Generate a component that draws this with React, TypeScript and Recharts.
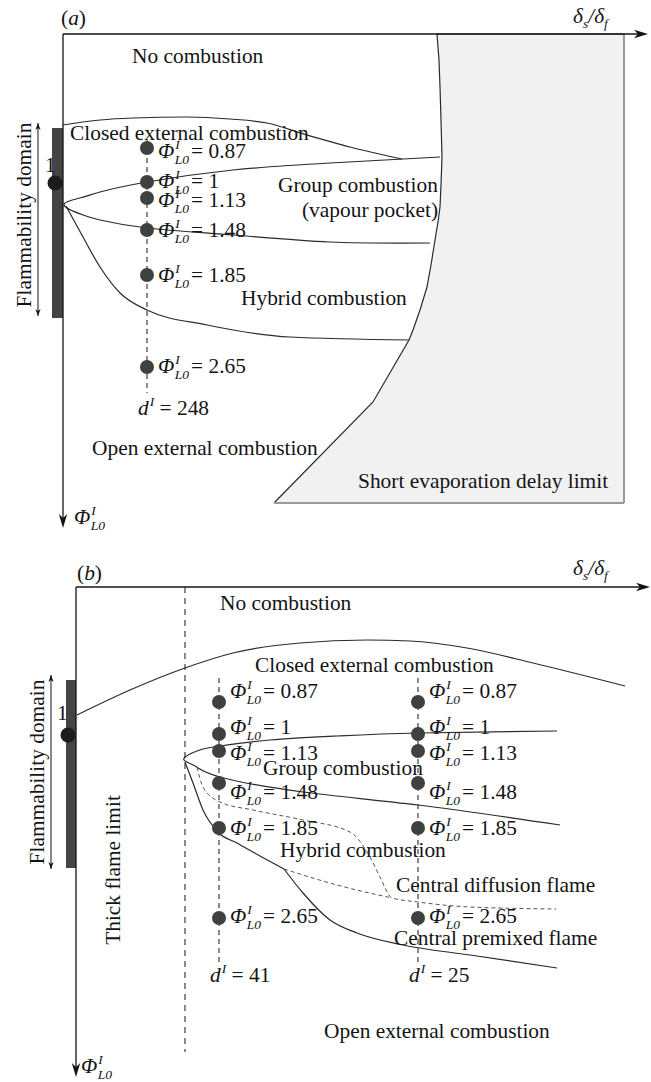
import {
  ComposedChart,
  XAxis,
  YAxis,
  Line,
  Area,
  Scatter,
  ReferenceLine,
  ReferenceArea,
} from 'recharts';

const WIDTH = 651;
const FONT = '"Liberation Serif", "Times New Roman", Times, serif';
const INK = '#141414';
const CURVE = '#2a2a2a';
const TEXT_SIZE = 21.4;

type Pt = { u: number; v: number };
type Curve = { data: Pt[]; type: 'monotone' | 'natural' | 'linear'; dashed?: boolean };
type Note = { u: number; v: number; text: string };
type Column = { u: number; top: number; bottom: number; d: string };

const pts = (list: number[][]): Pt[] => list.map(([u, v]) => ({ u, v }));

// equivalence ratios marked along each column
const phiValues = ['0.87', '1', '1.13', '1.48', '1.85', '2.65'];

// ---------- panel (a): schematic units counted from the panel's top-left corner
const aOrigin = { u: 63, v: 34 };
const aAxisTips = { u: 648, v: 528 };
const aBoxCorner = { u: 624, v: 503 };
const aColumns: Column[] = [{ u: 147, top: 140, bottom: 393, d: '248' }];
const aDotLevels = [148, 182, 198, 230, 275, 367];
const aLabelLevels = [158, 188, 207, 237, 282, 373];
const aClosedTop = pts([[63, 125], [100, 120], [133, 118], [187, 117], [230, 119], [267, 123], [307, 135], [350, 147], [402, 159]]);
const aGroup = pts([[440, 157], [330, 163], [233, 170], [147, 182], [100, 192], [80, 198], [64, 205], [83, 215], [100, 220], [147, 228], [233, 235], [330, 242], [430, 243]]);
const aHybridBottom = pts([[66, 206], [83, 237], [100, 267], [120, 293], [147, 310], [207, 325], [290, 337], [409, 340]]);
const aDelayLimit = pts([
  [274, 503], [373, 402], [409, 340], [413, 330], [420, 310], [427, 287], [431, 265], [435, 240],
  [438, 222], [440, 207], [441, 185], [442, 157], [441, 120], [440, 87], [439, 60], [437, 34], [624, 34],
]);
const aRegions: Note[] = [
  { u: 132, v: 63, text: 'No combustion' },
  { u: 70, v: 140, text: 'Closed external combustion' },
  { u: 278, v: 192, text: 'Group combustion' },
  { u: 302, v: 217, text: '(vapour pocket)' },
  { u: 241, v: 305, text: 'Hybrid combustion' },
  { u: 92, v: 455, text: 'Open external combustion' },
  { u: 358, v: 488, text: 'Short evaporation delay limit' },
];

// ---------- panel (b)
const bOrigin = { u: 76, v: 47 };
const bAxisTips = { u: 650, v: 537 };
const bThickLimit = { u: 185, top: 47, bottom: 512 };
const bColumns: Column[] = [
  { u: 219, top: 138, bottom: 422, d: '41' },
  { u: 418, top: 138, bottom: 422, d: '25' },
];
const bDotLevels = [162, 194, 211, 243, 288, 378];
const bLabelLevels = [158, 194, 220, 259, 295, 383];
const bClosedTop = pts([[77, 175], [130, 150], [185, 128], [233, 113], [300, 103], [367, 100], [410, 101], [467, 108], [533, 123], [625, 146]]);
const bGroup = pts([[557, 191], [418, 193], [337, 196], [270, 200], [220, 206], [203, 209], [190, 214], [184, 220], [195, 226], [220, 237], [303, 252], [418, 265], [560, 285]]);
const bHybridUpper = pts([[185, 222], [193, 243], [203, 270], [219, 293], [237, 303], [260, 316], [284, 329]]);
const bHybridLower = pts([[284, 329], [303, 353], [330, 380], [357, 393], [403, 405], [470, 415], [557, 428]]);
const bDiffusion = pts([[197, 227], [203, 247], [220, 262], [253, 270], [303, 280], [350, 292], [370, 317], [380, 337], [392, 358], [418, 362], [470, 367], [556, 369]]);
const bPremixed = pts([[284, 329], [337, 345], [392, 358]]);
const bRegions: Note[] = [
  { u: 220, v: 70, text: 'No combustion' },
  { u: 255, v: 132, text: 'Closed external combustion' },
  { u: 263, v: 235, text: 'Group combustion' },
  { u: 280, v: 317, text: 'Hybrid combustion' },
  { u: 396, v: 352, text: 'Central diffusion flame' },
  { u: 394, v: 405, text: 'Central premixed flame' },
  { u: 324, v: 498, text: 'Open external combustion' },
];

type PanelCfg = {
  height: number;
  tag: string;
  tagAt: Pt;
  origin: Pt;
  tips: Pt;
  ratioAt: Pt;
  phiAxisAt: Pt;
  bar: { u1: number; u2: number; v1: number; v2: number };
  flamArrow: { u: number; v1: number; v2: number };
  oneLabel: Pt;
  stoich: Pt;
  columns: Column[];
  dotLevels: number[];
  labelLevels: number[];
  dLevel: number;
  curves: Curve[];
  regions: Note[];
  rotated: Note[];
  delayLimit?: Pt[];
  boxCorner?: Pt;
  thickLimit?: { u: number; top: number; bottom: number };
};

const headPoints = (x: number, y: number, ang: number, len: number, half: number) => {
  const c = Math.cos(ang);
  const s = Math.sin(ang);
  const bx = x - len * c;
  const by = y - len * s;
  const nx = x - len * 0.72 * c;
  const ny = y - len * 0.72 * s;
  return `${x},${y} ${bx - half * s},${by + half * c} ${nx},${ny} ${bx + half * s},${by - half * c}`;
};

const AxisArrow = (p: any) => {
  const { x1, y1, x2, y2 } = p;
  const ang = Math.atan2(y2 - y1, x2 - x1);
  return (
    <g>
      <line x1={x1} y1={y1} x2={x2 - 8 * Math.cos(ang)} y2={y2 - 8 * Math.sin(ang)} stroke={INK} strokeWidth={1.3} />
      <polygon points={headPoints(x2, y2, ang, 14, 4.2)} fill={INK} />
    </g>
  );
};

const DoubleArrow = (p: any) => {
  const { x1, y1, x2, y2 } = p;
  const ang = Math.atan2(y2 - y1, x2 - x1);
  return (
    <g>
      <line x1={x1} y1={y1} x2={x2} y2={y2} stroke={INK} strokeWidth={1} />
      <polygon points={headPoints(x2, y2, ang, 7, 2.6)} fill={INK} />
      <polygon points={headPoints(x1, y1, ang + Math.PI, 7, 2.6)} fill={INK} />
    </g>
  );
};

function PhiText({ x, y, value }: { x: number; y: number; value?: string }) {
  return (
    <text x={x} y={y} fontFamily={FONT} fontSize={TEXT_SIZE} fill={INK}>
      <tspan fontStyle="italic">Φ</tspan>
      <tspan fontStyle="italic" fontSize={13.5} dx={1} dy={-9}>I</tspan>
      <tspan fontStyle="italic" fontSize={13.5} dx={-5} dy={15}>L0</tspan>
      {value !== undefined && (
        <tspan dx={2} dy={-6}>{'= ' + value}</tspan>
      )}
    </text>
  );
}

const textShape = (p: any) => (
  <text x={p.cx} y={p.cy} fontFamily={FONT} fontSize={TEXT_SIZE} fill={INK}>
    {p.payload.text}
  </text>
);

const rotatedShape = (p: any) => (
  <text
    x={p.cx}
    y={p.cy}
    fontFamily={FONT}
    fontSize={TEXT_SIZE}
    fill={INK}
    textAnchor="middle"
    transform={`rotate(-90 ${p.cx} ${p.cy})`}
  >
    {p.payload.text}
  </text>
);

const dotShape = (r: number, fill: string) => (p: any) => <circle cx={p.cx} cy={p.cy} r={r} fill={fill} />;

const phiShape = (p: any) => <PhiText x={p.cx} y={p.cy} value={p.payload.phi} />;
const phiAxisShape = (p: any) => <PhiText x={p.cx} y={p.cy} />;

const dShape = (p: any) => (
  <text x={p.cx} y={p.cy} fontFamily={FONT} fontSize={TEXT_SIZE} fill={INK}>
    <tspan fontStyle="italic">d</tspan>
    <tspan fontStyle="italic" fontSize={13.5} dx={1} dy={-9}>I</tspan>
    <tspan dy={9}>{' = ' + p.payload.d}</tspan>
  </text>
);

const ratioShape = (p: any) => (
  <text x={p.cx} y={p.cy} fontFamily={FONT} fontSize={TEXT_SIZE} fill={INK} fontStyle="italic">
    <tspan>δ</tspan>
    <tspan fontSize={13.5} dy={5}>s</tspan>
    <tspan dy={-5}>/δ</tspan>
    <tspan fontSize={13.5} dy={5}>f</tspan>
  </text>
);

const tagShape = (p: any) => (
  <text x={p.cx} y={p.cy} fontFamily={FONT} fontSize={TEXT_SIZE} fill={INK}>
    (<tspan fontStyle="italic">{p.payload.text}</tspan>)
  </text>
);

const oneShape = (p: any) => (
  <text x={p.cx} y={p.cy} fontFamily={FONT} fontSize={TEXT_SIZE} fill={INK}>1</text>
);

function Panel({ cfg }: { cfg: PanelCfg }) {
  const dots = cfg.columns.flatMap((c) => cfg.dotLevels.map((v, i) => ({ u: c.u, v, phi: phiValues[i] })));
  const labels = cfg.columns.flatMap((c) => cfg.labelLevels.map((v, i) => ({ u: c.u + 11, v, phi: phiValues[i] })));
  const dLabels = cfg.columns.map((c) => ({ u: c.u - 9, v: cfg.dLevel, d: c.d }));
  return (
    <ComposedChart width={WIDTH} height={cfg.height} margin={{ top: 0, right: 0, bottom: 0, left: 0 }}>
      <XAxis type="number" dataKey="u" domain={[0, WIDTH]} hide allowDataOverflow />
      <YAxis type="number" dataKey="v" domain={[0, cfg.height]} reversed hide allowDataOverflow />

      {cfg.delayLimit && cfg.boxCorner && (
        <Area
          data={cfg.delayLimit}
          dataKey="v"
          type="linear"
          baseValue={cfg.boxCorner.v}
          fill="#f1f1f1"
          fillOpacity={1}
          stroke={CURVE}
          strokeWidth={1.2}
          dot={false}
          activeDot={false}
          isAnimationActive={false}
        />
      )}
      {cfg.delayLimit && cfg.boxCorner && (
        <ReferenceLine
          segment={[{ x: cfg.boxCorner.u, y: cfg.origin.v }, { x: cfg.boxCorner.u, y: cfg.boxCorner.v }]}
          stroke="#9a9a9a"
          strokeWidth={2}
        />
      )}
      {cfg.delayLimit && cfg.boxCorner && (
        <ReferenceLine
          segment={[{ x: cfg.delayLimit[0].u, y: cfg.boxCorner.v }, { x: cfg.boxCorner.u, y: cfg.boxCorner.v }]}
          stroke="#9a9a9a"
          strokeWidth={2}
        />
      )}

      <ReferenceArea
        x1={cfg.bar.u1}
        x2={cfg.bar.u2}
        y1={cfg.bar.v1}
        y2={cfg.bar.v2}
        fill="#444"
        fillOpacity={1}
        stroke="none"
      />
      <ReferenceLine
        segment={[{ x: cfg.flamArrow.u, y: cfg.flamArrow.v1 }, { x: cfg.flamArrow.u, y: cfg.flamArrow.v2 }]}
        shape={DoubleArrow}
      />

      <ReferenceLine
        segment={[{ x: cfg.origin.u, y: cfg.origin.v }, { x: cfg.tips.u, y: cfg.origin.v }]}
        shape={AxisArrow}
      />
      <ReferenceLine
        segment={[{ x: cfg.origin.u, y: cfg.origin.v }, { x: cfg.origin.u, y: cfg.tips.v }]}
        shape={AxisArrow}
      />

      {cfg.thickLimit && (
        <ReferenceLine
          segment={[{ x: cfg.thickLimit.u, y: cfg.thickLimit.top }, { x: cfg.thickLimit.u, y: cfg.thickLimit.bottom }]}
          stroke={INK}
          strokeWidth={1}
          strokeDasharray="6 5"
        />
      )}

      {cfg.columns.map((c, i) => (
        <ReferenceLine
          key={`col${i}`}
          segment={[{ x: c.u, y: c.top }, { x: c.u, y: c.bottom }]}
          stroke={INK}
          strokeWidth={1}
          strokeDasharray="5 4"
        />
      ))}

      {cfg.curves.map((c, i) => (
        <Line
          key={`curve${i}`}
          data={c.data}
          dataKey="v"
          type={c.type}
          stroke={c.dashed ? '#555' : CURVE}
          strokeWidth={c.dashed ? 1 : 1.2}
          strokeDasharray={c.dashed ? '4 3' : undefined}
          dot={false}
          activeDot={false}
          legendType="none"
          isAnimationActive={false}
        />
      ))}

      <Scatter data={dots} shape={dotShape(7, '#404040')} isAnimationActive={false} />
      <Scatter data={[cfg.stoich]} shape={dotShape(7.5, '#1c1c1c')} isAnimationActive={false} />
      <Scatter data={labels} shape={phiShape} isAnimationActive={false} />
      <Scatter data={dLabels} shape={dShape} isAnimationActive={false} />
      <Scatter data={cfg.regions} shape={textShape} isAnimationActive={false} />
      <Scatter data={cfg.rotated} shape={rotatedShape} isAnimationActive={false} />
      <Scatter data={[{ ...cfg.tagAt, text: cfg.tag }]} shape={tagShape} isAnimationActive={false} />
      <Scatter data={[cfg.ratioAt]} shape={ratioShape} isAnimationActive={false} />
      <Scatter data={[cfg.phiAxisAt]} shape={phiAxisShape} isAnimationActive={false} />
      <Scatter data={[cfg.oneLabel]} shape={oneShape} isAnimationActive={false} />
    </ComposedChart>
  );
}

const panelA: PanelCfg = {
  height: 540,
  tag: 'a',
  tagAt: { u: 61, v: 25 },
  origin: aOrigin,
  tips: aAxisTips,
  ratioAt: { u: 573, v: 23 },
  phiAxisAt: { u: 74, v: 524 },
  bar: { u1: 52, u2: 63, v1: 128, v2: 318 },
  flamArrow: { u: 38, v1: 123, v2: 316 },
  oneLabel: { u: 45, v: 172 },
  stoich: { u: 55, v: 183 },
  columns: aColumns,
  dotLevels: aDotLevels,
  labelLevels: aLabelLevels,
  dLevel: 415,
  curves: [
    { data: aClosedTop, type: 'monotone' },
    { data: aGroup, type: 'natural' },
    { data: aHybridBottom, type: 'monotone' },
  ],
  regions: aRegions,
  rotated: [{ u: 31, v: 215, text: 'Flammability domain' }],
  delayLimit: aDelayLimit,
  boxCorner: aBoxCorner,
};

const panelB: PanelCfg = {
  height: 542,
  tag: 'b',
  tagAt: { u: 77, v: 40 },
  origin: bOrigin,
  tips: bAxisTips,
  ratioAt: { u: 573, v: 35 },
  phiAxisAt: { u: 81, v: 533 },
  bar: { u1: 66, u2: 76, v1: 140, v2: 328 },
  flamArrow: { u: 51, v1: 135, v2: 329 },
  oneLabel: { u: 57, v: 180 },
  stoich: { u: 68, v: 195 },
  columns: bColumns,
  dotLevels: bDotLevels,
  labelLevels: bLabelLevels,
  dLevel: 442,
  curves: [
    { data: bClosedTop, type: 'monotone' },
    { data: bGroup, type: 'natural' },
    { data: bHybridUpper, type: 'monotone' },
    { data: bHybridLower, type: 'monotone' },
    { data: bDiffusion, type: 'monotone', dashed: true },
    { data: bPremixed, type: 'monotone', dashed: true },
  ],
  regions: bRegions,
  rotated: [
    { u: 44, v: 232, text: 'Flammability domain' },
    { u: 120, v: 330, text: 'Thick flame limit' },
  ],
  thickLimit: bThickLimit,
};

export default function App() {
  return (
    <div style={{ position: 'absolute', left: 0, top: 0, width: WIDTH, background: '#fff' }}>
      <Panel cfg={panelA} />
      <Panel cfg={panelB} />
    </div>
  );
}
